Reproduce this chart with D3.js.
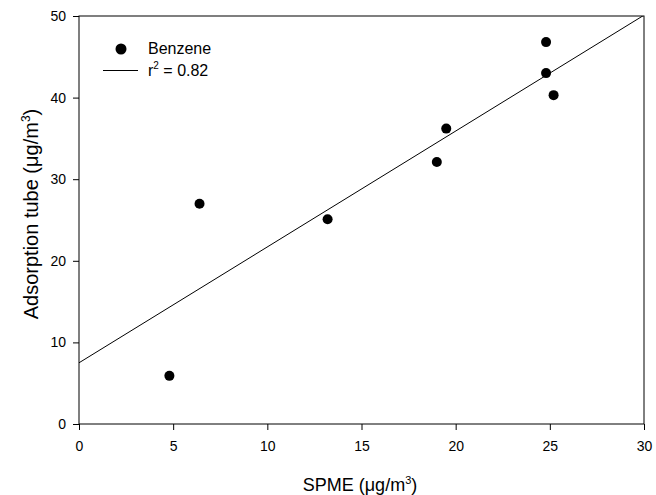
<!DOCTYPE html>
<html>
<head>
<meta charset="utf-8">
<script src="https://cdn.jsdelivr.net/npm/d3@7"></script>
<style>
  body { margin: 0; background: #fff; }
  svg { font-family: "Liberation Sans", Arial, sans-serif; }
</style>
</head>
<body>
<div id="chart"></div>
<script>
// Benzene: SPME vs adsorption tube (ug/m3)
const spme = [4.8, 6.4, 13.2, 19.0, 19.5, 24.8, 24.8, 25.2];
const tube = [5.9, 27.0, 25.1, 32.1, 36.2, 46.8, 43.0, 40.3];
const xTicks = [0, 5, 10, 15, 20, 25, 30];
const yTicks = [0, 10, 20, 30, 40, 50];
const fit = { intercept: 7.5, slope: 1.42 }; // r2 = 0.82

const width = 656, height = 495;
const margin = { top: 16, right: 12, bottom: 71, left: 79 };

const svg = d3.select("#chart")
  .append("svg")
  .attr("width", width)
  .attr("height", height);

const x = d3.scaleLinear()
  .domain([0, 30])
  .range([margin.left, width - margin.right]);

const y = d3.scaleLinear()
  .domain([0, 50])
  .range([height - margin.bottom, margin.top]);

// Axes
const xAxis = svg.append("g")
  .attr("transform", `translate(0,${height - margin.bottom})`)
  .call(d3.axisBottom(x).tickValues(xTicks).tickSize(6).tickPadding(11).tickFormat(d3.format("d")));

const yAxis = svg.append("g")
  .attr("transform", `translate(${margin.left},0)`)
  .call(d3.axisLeft(y).tickValues(yTicks).tickSize(6).tickPadding(7).tickFormat(d3.format("d")));

[xAxis, yAxis].forEach(g => {
  g.selectAll("text").attr("font-size", "14px").attr("fill", "#000").attr("font-family", "Liberation Sans, Arial, sans-serif");
  g.selectAll("line").attr("stroke", "#000");
  g.select(".domain").remove();
});

// Frame
svg.append("rect")
  .attr("x", x(0))
  .attr("y", y(50))
  .attr("width", x(30) - x(0))
  .attr("height", y(0) - y(50))
  .attr("fill", "none")
  .attr("stroke", "#000")
  .attr("stroke-width", 1);

// Regression line, clipped to the plot area
svg.append("clipPath").attr("id", "plot-clip")
  .append("rect")
  .attr("x", x(0)).attr("y", y(50))
  .attr("width", x(30) - x(0)).attr("height", y(0) - y(50));

const line = d3.line()
  .x(d => x(d))
  .y(d => y(fit.intercept + fit.slope * d));

svg.append("path")
  .datum([0, 30])
  .attr("clip-path", "url(#plot-clip)")
  .attr("fill", "none")
  .attr("stroke", "#000")
  .attr("stroke-width", 1)
  .attr("d", line);

// Points
svg.selectAll(".dot")
  .data(spme)
  .enter()
  .append("circle")
  .attr("class", "dot")
  .attr("cx", d => x(d))
  .attr("cy", (d, i) => y(tube[i]))
  .attr("r", 5)
  .attr("fill", "#000");

// Legend
svg.append("circle").attr("cx", 121).attr("cy", 49).attr("r", 5.5).attr("fill", "#000");
svg.append("text").attr("x", 148).attr("y", 54).attr("font-size", "16px").text("Benzene");
svg.append("line").attr("x1", 103).attr("x2", 138).attr("y1", 70.5).attr("y2", 70.5).attr("stroke", "#000");
const r2 = svg.append("text").attr("x", 148).attr("y", 76).attr("font-size", "16px");
r2.append("tspan").text("r");
r2.append("tspan").attr("font-size", "10px").attr("dy", -7).text("2");
r2.append("tspan").attr("dy", 7).text(" = 0.82");

// Axis labels
const xl = svg.append("text")
  .attr("x", 360)
  .attr("y", 491)
  .attr("text-anchor", "middle")
  .attr("font-size", "18px");
xl.append("tspan").text("SPME ");
xl.append("tspan").text("(μg/m");
xl.append("tspan").attr("font-size", "11px").attr("dy", -7).text("3");
xl.append("tspan").attr("dy", 7).text(")");

const yl = svg.append("text")
  .attr("transform", `translate(38,214) rotate(-90)`)
  .attr("text-anchor", "middle")
  .attr("font-size", "20px");
yl.append("tspan").text("Adsorption tube ");
yl.append("tspan").text("(μg/m");
yl.append("tspan").attr("font-size", "12px").attr("dy", -8).text("3");
yl.append("tspan").attr("dy", 8).text(")");
</script>
</body>
</html>
